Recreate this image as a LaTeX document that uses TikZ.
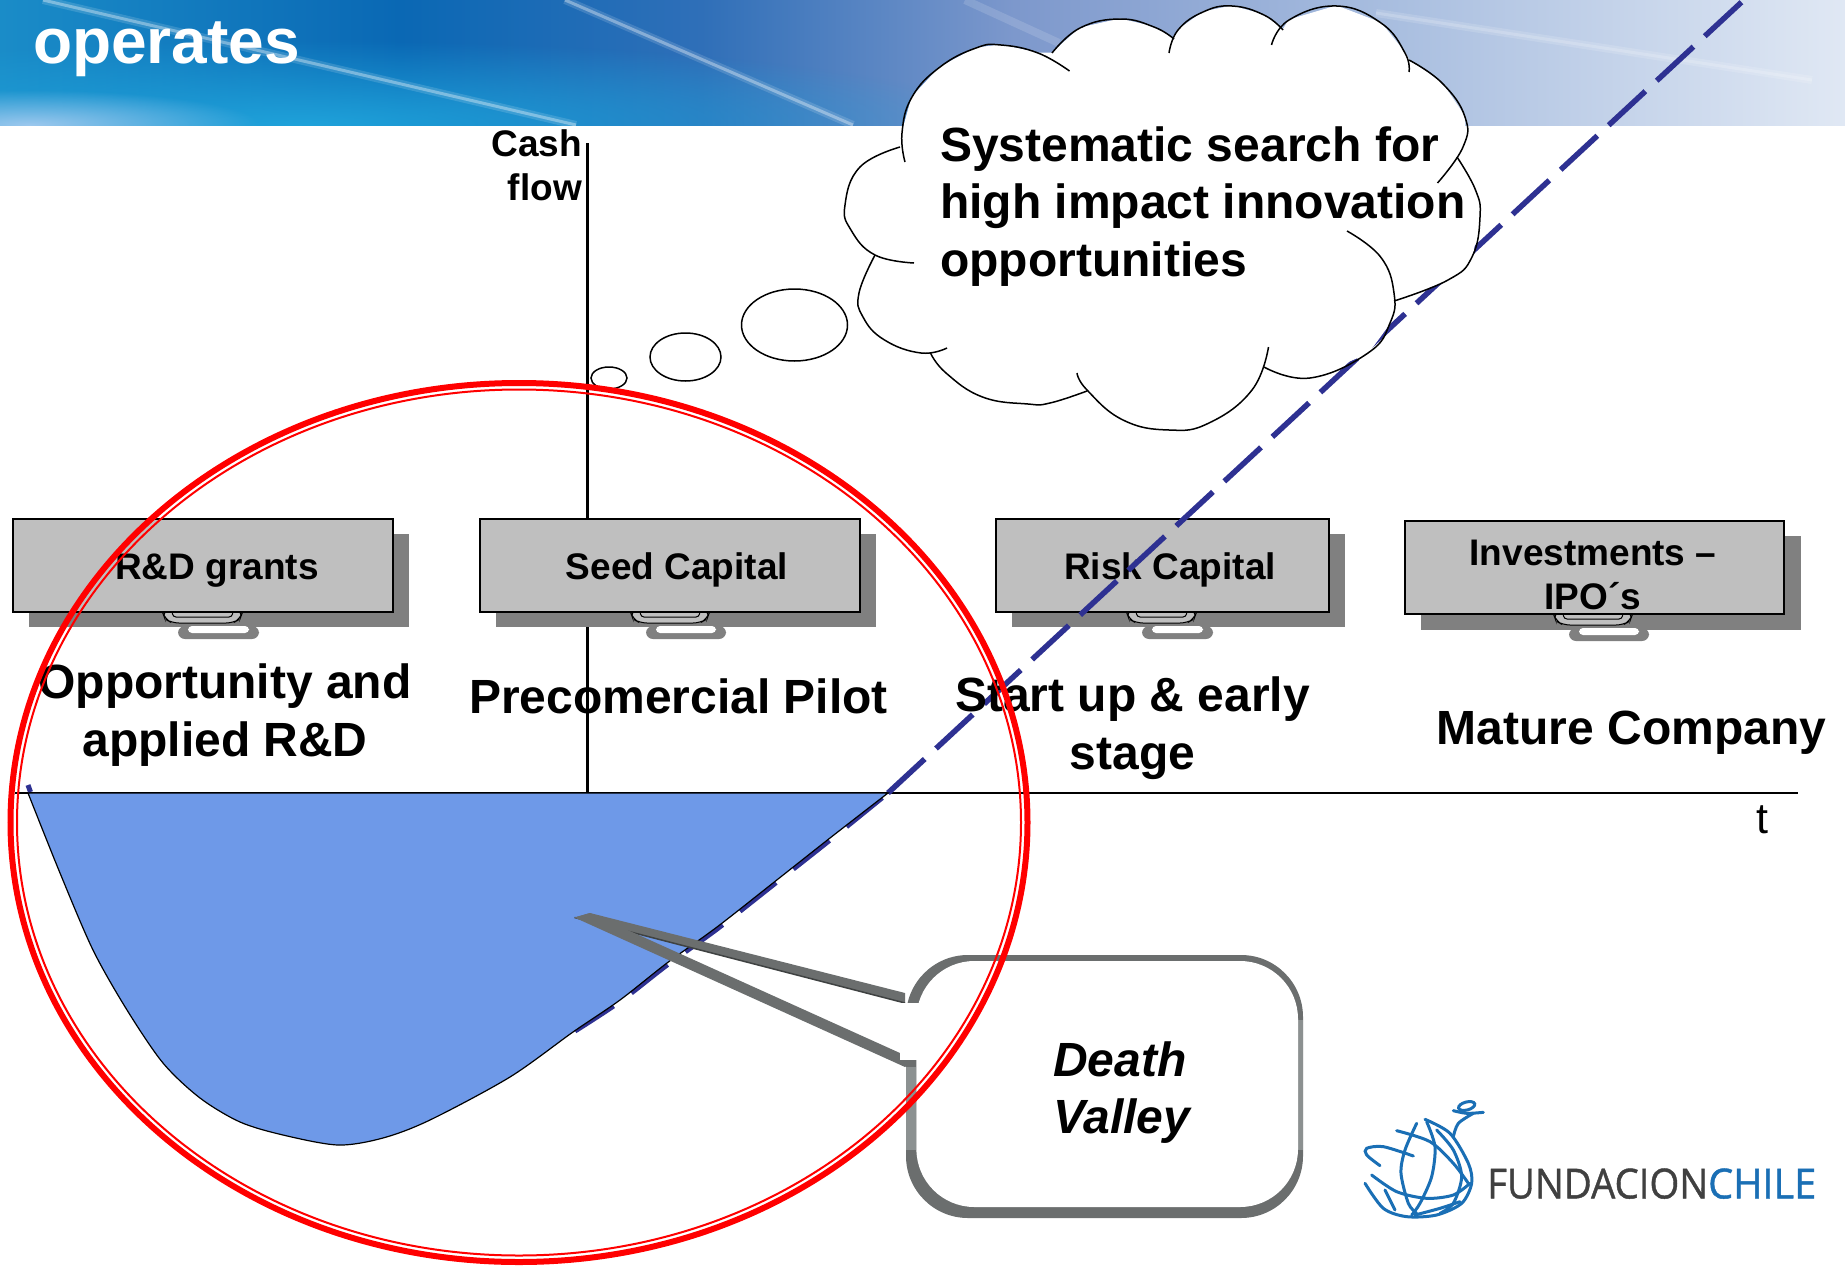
\documentclass[tikz,border=0pt]{standalone}
\usepackage{fontspec}
\setmainfont{Liberation Sans}
\newfontfamily\logofont[FakeBold=1]{Open Sans}
\usetikzlibrary{fadings,shapes.geometric}
\definecolor{hA}{HTML}{1A8CC8}
\definecolor{hB}{HTML}{0A68B4}
\definecolor{hC}{HTML}{2F6FB8}
\definecolor{hD}{HTML}{7D98CC}
\definecolor{hE}{HTML}{AABFE0}
\definecolor{hF}{HTML}{E0E8F4}
\definecolor{glow}{HTML}{1FA2DA}
\definecolor{corner}{HTML}{9CC8EE}
\definecolor{dashblue}{HTML}{2E3192}
\definecolor{valley}{HTML}{6E99E8}
\definecolor{boxgrey}{HTML}{BFBFBF}
\definecolor{shadowgrey}{HTML}{808080}
\definecolor{frame}{HTML}{6B6E6E}
\definecolor{framelight}{HTML}{8C9191}
\definecolor{framedark}{HTML}{3F4242}
\definecolor{logoblue}{HTML}{1A6FB5}
\definecolor{logogrey}{HTML}{404040}
\pgfdeclarehorizontalshading{headershade}{100bp}{
 color(0bp)=(hA); color(25bp)=(hA); color(35.85bp)=(hB); color(44bp)=(hC); color(52.5bp)=(hD); color(63bp)=(hE); color(75bp)=(hF); color(100bp)=(hF)}
\tikzfading[name=softglow, inner color=transparent!0, outer color=transparent!100]
\tikzset{
 big/.style={inner sep=0pt,font=\fontsize{48}{57.6}\selectfont\bfseries,align=center,anchor=base},
 mid/.style={inner sep=0pt,font=\fontsize{37}{44}\selectfont\bfseries,align=center,anchor=base},
 fundbox/.style={draw=black,line width=2pt,fill=boxgrey,minimum height=93pt,inner sep=0pt,anchor=north west},
 lobe/.style={draw=black,line width=1.5pt},
 bubble/.style={draw=black,line width=1.5pt,fill=white},
 dashline/.style={draw=dashblue,line width=5.5pt,dash pattern=on 50pt off 15.5pt},
 streak/.style={draw=white,opacity=.35,line width=3pt},
 streakglow/.style={draw=white,opacity=.14,line width=8pt},
 logoline/.style={draw=logoblue,line width=3pt,line cap=round},
}
\newcommand{\paperclip}[3]{% x, y(box bottom), width
 \fill[shadowgrey,rounded corners=7pt] (#1+16,#2+15) -- (#1+16,#2+28) -- (#1+16+#3,#2+28) -- (#1+16+#3,#2+15) -- cycle;
 \fill[white,rounded corners=4pt] (#1+26,#2+15) -- (#1+26,#2+22) -- (#1+6+#3,#2+22) -- (#1+6+#3,#2+15) -- cycle;
 \filldraw[fill=boxgrey,draw=black,line width=1pt,rounded corners=7pt] (#1,#2) -- (#1+3,#2+8) -- (#1+10,#2+12) -- (#1+#3-10,#2+12) -- (#1+#3-3,#2+8) -- (#1+#3,#2) -- cycle;
 \draw[black,line width=1pt,rounded corners=3pt] (#1+10,#2) -- (#1+11,#2+6) -- (#1+#3-11,#2+6) -- (#1+#3-10,#2);
}
\begin{document}
\begin{tikzpicture}[x=1pt,y=-1pt]
\useasboundingbox (0,0) rectangle (1845,1266);
\fill[white] (0,0) rectangle (1845,1266);
% header band
\shade[shading=headershade] (0,0) rectangle (1845,125);
\begin{scope}
\clip (0,0) rectangle (1845,125);
\fill[glow,path fading=softglow] (-400,40) rectangle (1000,210);
\fill[corner,path fading=softglow] (-200,90) rectangle (260,160);
\draw[streakglow] (43,0) -- (576,125);
\draw[streak] (43,0) -- (576,125);
\draw[streakglow] (565,0) -- (853,125);
\draw[streak] (565,0) -- (853,125);
\draw[streakglow] (965,0) -- (1059,43);
\draw[streakglow] (1376,13) -- (1812,80);
\draw[streak,opacity=.18] (1376,13) -- (1812,80);
\end{scope}
\node[white,inner sep=0pt,anchor=base west,font=\fontsize{64}{77}\selectfont\bfseries] (title) at (33,63.5) {operates};
% axes
\coordinate (xl) at (15,793); \coordinate (xr) at (1798,793);
\coordinate (yt) at (587.5,143); \coordinate (yb) at (587.5,793);
\draw[black,line width=1.5pt] (xl) -- (xr);
\draw[black,line width=3.5pt] (yt) -- (yb);
\node[mid,align=right,anchor=base east] (cash) at (582,200) {Cash\\flow};
\node[inner sep=0pt,font=\fontsize{43}{50}\selectfont,anchor=base] (tlabel) at (1762,833) {t};
% boxes
\fill[shadowgrey] (29,534) rectangle (409,627);
\fill[shadowgrey] (496,534) rectangle (876,627);
\fill[shadowgrey] (1012,534) rectangle (1345,627);
\fill[shadowgrey] (1421,536) rectangle (1801,630);
\paperclip{162}{611}{81}
\paperclip{630}{611}{80}
\paperclip{1126}{611}{71}
\paperclip{1553}{613}{80}
\node[fundbox,minimum width=380pt] (rdbox) at (12,517.5) {};
\node[fundbox,minimum width=380pt] (seedbox) at (479,517.5) {};
\node[fundbox,minimum width=333pt] (riskbox) at (995,517.5) {};
\node[fundbox,minimum width=379pt] (ipobox) at (1404,520) {};
\node[mid] (rdtext) at (217,579) {R\&D grants};
\node[mid] (seedtext) at (677,579) {Seed Capital};
\node[mid] (risktext) at (1170,579) {Risk Capital};
\node[mid] (ipotext) at (1593,609.5) {Investments --\\IPO´s};
% dashed line
\coordinate (d0) at (888,793); \coordinate (d1) at (1760,-15);
\draw[dashline] (d0) -- (d1);
\draw[dashline,line width=5pt,dash pattern=on 46pt off 22pt] plot[smooth] coordinates {(575,1031) (620,1001.5) (667,965) (717,929) (773,885) (830,840) (888,793)};
\draw[dashblue,line width=5pt] (30.5,792) -- (28,785);
% valley
\filldraw[fill=valley,draw=black,line width=1.2pt]
 plot[smooth,tension=.5] coordinates {(28,793) (60,873) (93,950) (127,1010) (163,1063) (200,1098) (240,1122) (283,1135) (338,1145) (383,1138) (430,1120) (510,1077) (573,1032) (620,1000) (667,963) (717,927) (773,883) (830,838) (888,793)} -- cycle;
% stage labels
\node[big] (opp) at (225,756.5) {Opportunity and\\applied R\&D};
\node[big] (pilot) at (678.5,713) {Precomercial Pilot};
\node[big] (start) at (1132.5,769) {Start up \& early\\stage};
\node[big] (mature) at (1631.5,744) {Mature Company};
% cloud
\node[bubble,ellipse,minimum width=36pt,minimum height=22pt,inner sep=0pt] (b1) at (609,378) {};
\node[bubble,ellipse,minimum width=71pt,minimum height=48pt,inner sep=0pt] (b2) at (685.5,357) {};
\node[bubble,ellipse,minimum width=106pt,minimum height=72pt,inner sep=0pt] (b3) at (794.5,325) {};
\filldraw[white,line width=1pt] (905,162) -- (902,133) -- (912,97) -- (940,67) -- (976,48) -- (1001,45) -- (1038,53) -- (1052,53) -- (1080,28) -- (1120,19) -- (1154,27) -- (1174,39) -- (1178,30) -- (1203,12) -- (1232,6) -- (1264,15) -- (1283,30) -- (1289,20) -- (1336.5,6) -- (1381,23) -- (1405,53) -- (1409,60) -- (1442,83) -- (1465,117) -- (1463,147) -- (1457,157) -- (1475.5,190) -- (1480,217) -- (1472,257) -- (1448,280) -- (1394,301) -- (1390,323) -- (1368,353) -- (1310,378) -- (1264,367) -- (1252,390) -- (1209,423) -- (1169,430) -- (1123,420) -- (1087,391) -- (1050,403) -- (1028,404) -- (982.5,397) -- (946,373) -- (930.5,353) -- (884.5,340) -- (863,317) -- (859,293) -- (875,255) -- (851,230) -- (845,205) -- (860,167) -- (900,147) -- cycle;
\begin{scope}[smooth,tension=.75]
\draw[lobe] plot[smooth,tension=.75] coordinates {(905,162) (902,133) (912,97) (940,67) (976,48) (1001,45) (1038,53) (1069.5,71)};
\draw[lobe] plot[smooth,tension=.75] coordinates {(1052,53) (1080,28) (1120,19) (1154,27) (1174,39)};
\draw[lobe] plot[smooth,tension=.75] coordinates {(1169,53) (1178,30) (1203,12) (1232,6) (1264,15) (1283,30)};
\draw[lobe] plot[smooth,tension=.75] coordinates {(1271.5,45) (1289,20) (1336.5,6) (1381,23) (1405,53) (1409,72)};
\draw[lobe] plot[smooth,tension=.75] coordinates {(1409,60) (1442,83) (1465,117) (1463,147) (1437.5,183)};
\draw[lobe] plot[smooth,tension=.75] coordinates {(1457,157) (1475.5,190) (1480,217) (1472,257) (1448,280) (1394,301)};
\draw[lobe] plot[smooth,tension=.75] coordinates {(1347,231) (1380.6,257) (1394,293) (1390,323) (1368,353) (1310,378) (1264,367)};
\draw[lobe] plot[smooth,tension=.75] coordinates {(1268.5,347) (1252,390) (1209,423) (1169,430) (1123,420) (1087,390) (1077,373)};
\draw[lobe] plot[smooth,tension=.75] coordinates {(1087,391) (1050,403) (1028,404) (982.5,397) (946,373) (930.5,353)};
\draw[lobe] plot[smooth,tension=.75] coordinates {(947,348) (921,353) (884.5,340) (863,317) (859,293) (875,255)};
\draw[lobe] plot[smooth,tension=.75] coordinates {(914,263) (875,255) (851,230) (845,205) (860,167) (900,147)};
\end{scope}
\node[big,align=left,anchor=base west] (search) at (940,276.5) {Systematic search for\\high impact innovation\\opportunities};
% callout
\fill[frame] (574.5,917.5) -- (590,913) -- (905,993) -- (905,1003) -- cycle;
\draw[framedark,line width=1.5pt] (574.5,917.5) -- (905,1003);
\fill[frame] (574.5,917.5) -- (590,913) -- (915.4,1060) -- (905,1067) -- cycle;
\fill[frame,rounded corners=62pt] (906,955) rectangle (1303,1218);
\fill[framelight] (906,1067) rectangle (916.4,1150);
\fill[framelight] (1298,1020) rectangle (1303,1150);
\fill[white,rounded corners=58pt] (916.4,961) rectangle (1298,1207);
\fill[white] (900,1003) rectangle (920,1060);
\node[big,align=left,anchor=base west,font=\fontsize{48}{57}\selectfont\bfseries\itshape] (death) at (1053,1133) {Death\\Valley};
% logo
\node[inner sep=0pt,anchor=south west,text=logogrey] (fund) at (1487,1199) {\resizebox{221pt}{30pt}{\logofont FUNDACION}};
\node[inner sep=0pt,anchor=south west,text=logoblue] (chile) at (1708,1199) {\resizebox{108pt}{30pt}{\logofont CHILE}};
\begin{scope}[shift={(1340,1080)},x=.3333pt,y=-.3333pt]
\draw[logoline] plot[smooth] coordinates {(255,118) (330,160) (385,250) (395,310) (365,370) (290,405) (200,410) (130,385) (75,310)};
\draw[logoline] plot[smooth] coordinates {(170,152) (270,185) (340,250) (385,310)};
\draw[logoline] plot[smooth] coordinates {(230,130) (195,210) (183,280) (205,370) (230,400)};
\draw[logoline] plot[smooth] coordinates {(260,125) (285,200) (275,290) (240,370) (215,405)};
\draw[logoline] plot[smooth] coordinates {(290,150) (340,210) (365,290) (340,370) (300,400)};
\draw[logoline] plot[smooth] coordinates {(120,257) (80,225) (80,205) (130,200) (220,228)};
\draw[logoline] plot[smooth] coordinates {(95,285) (170,335) (260,355) (340,345) (390,310)};
\draw[logoline] plot[smooth] coordinates {(135,330) (165,390)};
\draw[logoline] plot[smooth] coordinates {(225,405) (300,385) (360,365)};
\draw[logoline] plot[smooth] coordinates {(340,170) (355,130) (400,100)};
\draw[logoline] plot[smooth] coordinates {(340,92) (380,100) (430,97)};
\draw[logoline,rotate around={15:(380,78)}] (380,78) ellipse (25 and 12);
\end{scope}
% red ellipse
\coordinate (ec) at (519,822.5);
\draw[red,line width=6pt] (ec) ellipse (508.5 and 439.5);
\draw[red,line width=2pt] (ec) ellipse (502 and 433);
\end{tikzpicture}
\end{document}
